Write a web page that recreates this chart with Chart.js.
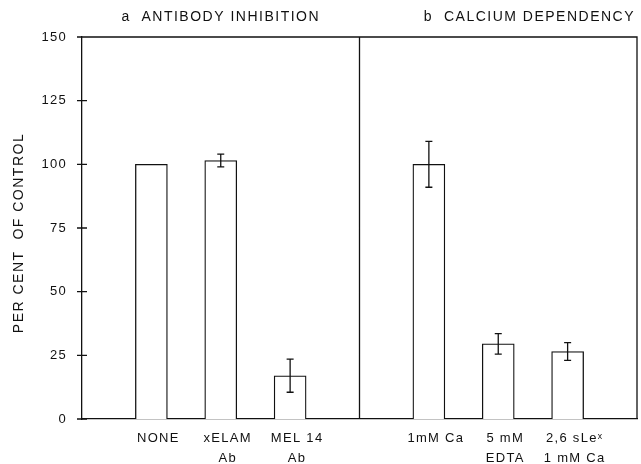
<!DOCTYPE html>
<html><head><meta charset="utf-8">
<script src="https://cdn.jsdelivr.net/npm/chart.js@4/dist/chart.umd.min.js"></script>
<style>html,body{margin:0;padding:0;background:#fff;}#wrap{width:641px;height:464px;}</style>
</head><body><div id="wrap"><canvas id="c" width="641" height="464"></canvas></div>
<script>
// ---- data ----
const categories = ['', ['NONE'], ['xELAM', 'Ab'], ['MEL 14', 'Ab'], '', ['1mM Ca'], ['5 mM', 'EDTA'], ['2,6 sLeˣ', '1 mM Ca'], ''];
const values = [null, 100, 101.5, 17, null, 100, 29.5, 26.5, null];
const errors = [null, 0, 2.5, 6.5, null, 9, 4, 3.5, null];
const yTickValues = [0, 25, 50, 75, 100, 125, 150];
const panelTitles = ['a  ANTIBODY INHIBITION', 'b  CALCIUM DEPENDENCY'];
const yTitle = 'PER CENT  OF CONTROL';

// ---- style / layout ----
const INK = '#111';
const FONT = '"Liberation Sans", Arial, sans-serif';
const dividerIndex = 4;
const titleCenters = [2, 6.45];

const paperPlugin = {
  id: 'paper',
  beforeDraw(chart) {
    chart.ctx.letterSpacing = '1.3px';
  },
  afterDatasetsDraw(chart) {
    const ctx = chart.ctx, ys = chart.scales.y;
    const meta = chart.getDatasetMeta(0);
    ctx.save();
    ctx.strokeStyle = INK; ctx.lineWidth = 1.3;
    meta.data.forEach((bar, i) => {
      const e = errors[i];
      if (values[i] == null || !e) return;
      const yt = ys.getPixelForValue(values[i] + e);
      const yb = ys.getPixelForValue(values[i] - e);
      const x = bar.x, cap = 3.5;
      ctx.beginPath();
      ctx.moveTo(x, yt); ctx.lineTo(x, yb);
      ctx.moveTo(x - cap, yt); ctx.lineTo(x + cap, yt);
      ctx.moveTo(x - cap, yb); ctx.lineTo(x + cap, yb);
      ctx.stroke();
    });
    ctx.restore();
  },
  afterDraw(chart) {
    const ctx = chart.ctx, a = chart.chartArea, xs = chart.scales.x, ys = chart.scales.y;
    ctx.save();
    ctx.strokeStyle = INK; ctx.lineWidth = 1.3;
    ctx.beginPath();
    ctx.moveTo(a.left, a.top); ctx.lineTo(a.right, a.top); ctx.lineTo(a.right, a.bottom);
    const dx = xs.getPixelForValue(dividerIndex);
    ctx.moveTo(dx, a.top); ctx.lineTo(dx, a.bottom);
    ys.ticks.forEach(t => {
      const py = ys.getPixelForValue(t.value);
      ctx.moveTo(a.left - 5, py); ctx.lineTo(a.left + 5, py);
    });
    ctx.stroke();
    ctx.fillStyle = INK;
    ctx.font = '14px ' + FONT;
    ctx.letterSpacing = '1.5px';
    ctx.textAlign = 'center'; ctx.textBaseline = 'middle';
    panelTitles.forEach((t, i) => {
      ctx.fillText(t, xs.getPixelForValue(titleCenters[i]), 17);
    });
    ctx.translate(19, (a.top + a.bottom) / 2 + 5);
    ctx.rotate(-Math.PI / 2);
    ctx.fillText(yTitle, 0, 0);
    ctx.restore();
  }
};

new Chart(document.getElementById('c'), {
  type: 'bar',
  data: {
    labels: categories,
    datasets: [{
      data: values,
      backgroundColor: '#fff',
      borderColor: INK,
      borderWidth: 1.3,
      barThickness: 32
    }]
  },
  options: {
    responsive: false,
    animation: false,
    devicePixelRatio: 1,
    layout: { padding: { left: 0, right: 4, top: 37, bottom: 0 } },
    plugins: { legend: { display: false }, tooltip: { enabled: false }, title: { display: false } },
    scales: {
      x: {
        offset: false,
        grid: { display: false, offset: false, drawTicks: false },
        border: { display: true, color: INK, width: 1.3 },
        ticks: {
          autoSkip: false, maxRotation: 0, minRotation: 0,
          color: INK, padding: 10, labelOffset: 7,
          font: { family: FONT, size: 13, lineHeight: 1.5 }
        },
        afterFit(s) { s.height = 45; s.paddingLeft = 0; s.paddingRight = 0; }
      },
      y: {
        min: 0, max: 150,
        afterBuildTicks(s) { s.ticks = yTickValues.map(v => ({ value: v })); },
        grid: { display: false, drawTicks: false },
        border: { display: true, color: INK, width: 1.3 },
        ticks: { color: INK, padding: 15, font: { family: FONT, size: 13 } },
        afterFit(s) { s.width = 82; s.paddingTop = 0; s.paddingBottom = 0; }
      }
    }
  },
  plugins: [paperPlugin]
});
</script>
</body></html>
